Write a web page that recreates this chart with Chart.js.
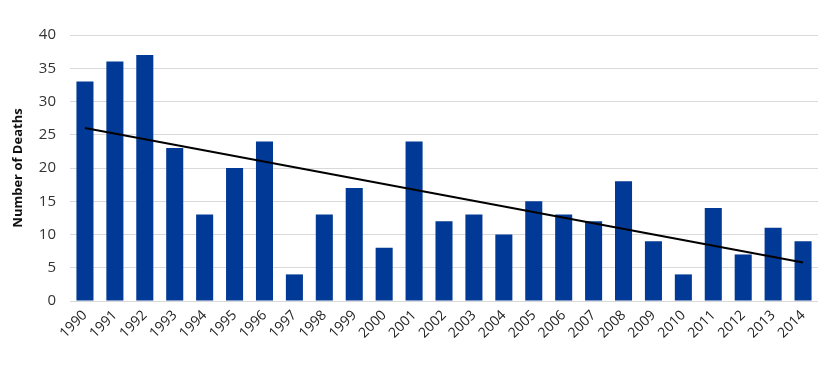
<!DOCTYPE html>
<html>
<head>
<meta charset="utf-8">
<script src="https://cdn.jsdelivr.net/npm/chart.js@4/dist/chart.umd.min.js"></script>
<style>
  html, body { margin: 0; padding: 0; background: #fff; }
  #wrap { width: 833px; height: 367px; }
</style>
</head>
<body>
<div id="wrap"><canvas id="deaths"></canvas></div>
<script>
var years = ['1990','1991','1992','1993','1994','1995','1996','1997','1998','1999','2000','2001','2002',
             '2003','2004','2005','2006','2007','2008','2009','2010','2011','2012','2013','2014'];
var deaths = [33, 36, 37, 23, 13, 20, 24, 4, 13, 17, 8, 24, 12, 13, 10, 15, 13, 12, 18, 9, 4, 14, 7, 11, 9];
// trend line end points
var trendStart = 26.0;
var trendEnd = 5.8;
var yTicks = [0, 5, 10, 15, 20, 25, 30, 35, 40];

var trend = years.map(function (y, i) {
    if (i == 0) return trendStart;
    if (i == years.length - 1) return trendEnd;
    return null;
});

var font = "'Open Sans', 'Liberation Sans', sans-serif";

function make_chart() {
    var ctx = document.getElementById('deaths');
    new Chart(ctx, {
        data: {
            labels: years,
            datasets: [{
                type: 'line',
                label: 'Trend',
                data: trend,
                spanGaps: true,
                borderColor: '#000000',
                borderWidth: 2,
                pointRadius: 0,
                fill: false,
                order: 0
            }, {
                type: 'bar',
                label: 'Number of Deaths',
                data: deaths,
                backgroundColor: '#003a96',
                borderWidth: 0,
                categoryPercentage: 1.0,
                barPercentage: 0.57,
                order: 1
            }]
        },
        options: {
            responsive: false,
            animation: false,
            layout: { padding: { left: 10, right: 15, top: 35, bottom: 2 } },
            plugins: {
                legend: { display: false },
                tooltip: { enabled: false }
            },
            scales: {
                x: {
                    grid: { display: false, drawTicks: false },
                    border: { display: false },
                    ticks: {
                        color: '#222',
                        font: { family: font, size: 14 },
                        maxRotation: 45,
                        minRotation: 45,
                        padding: 6
                    },
                    afterFit: function (scale) { scale.height = 64; }
                },
                y: {
                    min: 0,
                    max: 40,
                    afterBuildTicks: function (scale) {
                        scale.ticks = yTicks.map(function (v) { return { value: v }; });
                    },
                    grid: { color: '#d9d9d9', lineWidth: 1, drawTicks: false },
                    border: { display: false },
                    ticks: {
                        color: '#333',
                        font: { family: font, size: 15 },
                        padding: 14
                    },
                    title: {
                        display: true,
                        text: 'Number of Deaths',
                        color: '#111',
                        font: { family: font, size: 13, weight: 'bold' },
                        padding: { top: 0, bottom: 4 }
                    },
                    afterFit: function (scale) { scale.width = 60; }
                }
            }
        }
    });
}

var c = document.getElementById('deaths');
c.width = 833;
c.height = 367;
make_chart();
</script>
</body>
</html>
